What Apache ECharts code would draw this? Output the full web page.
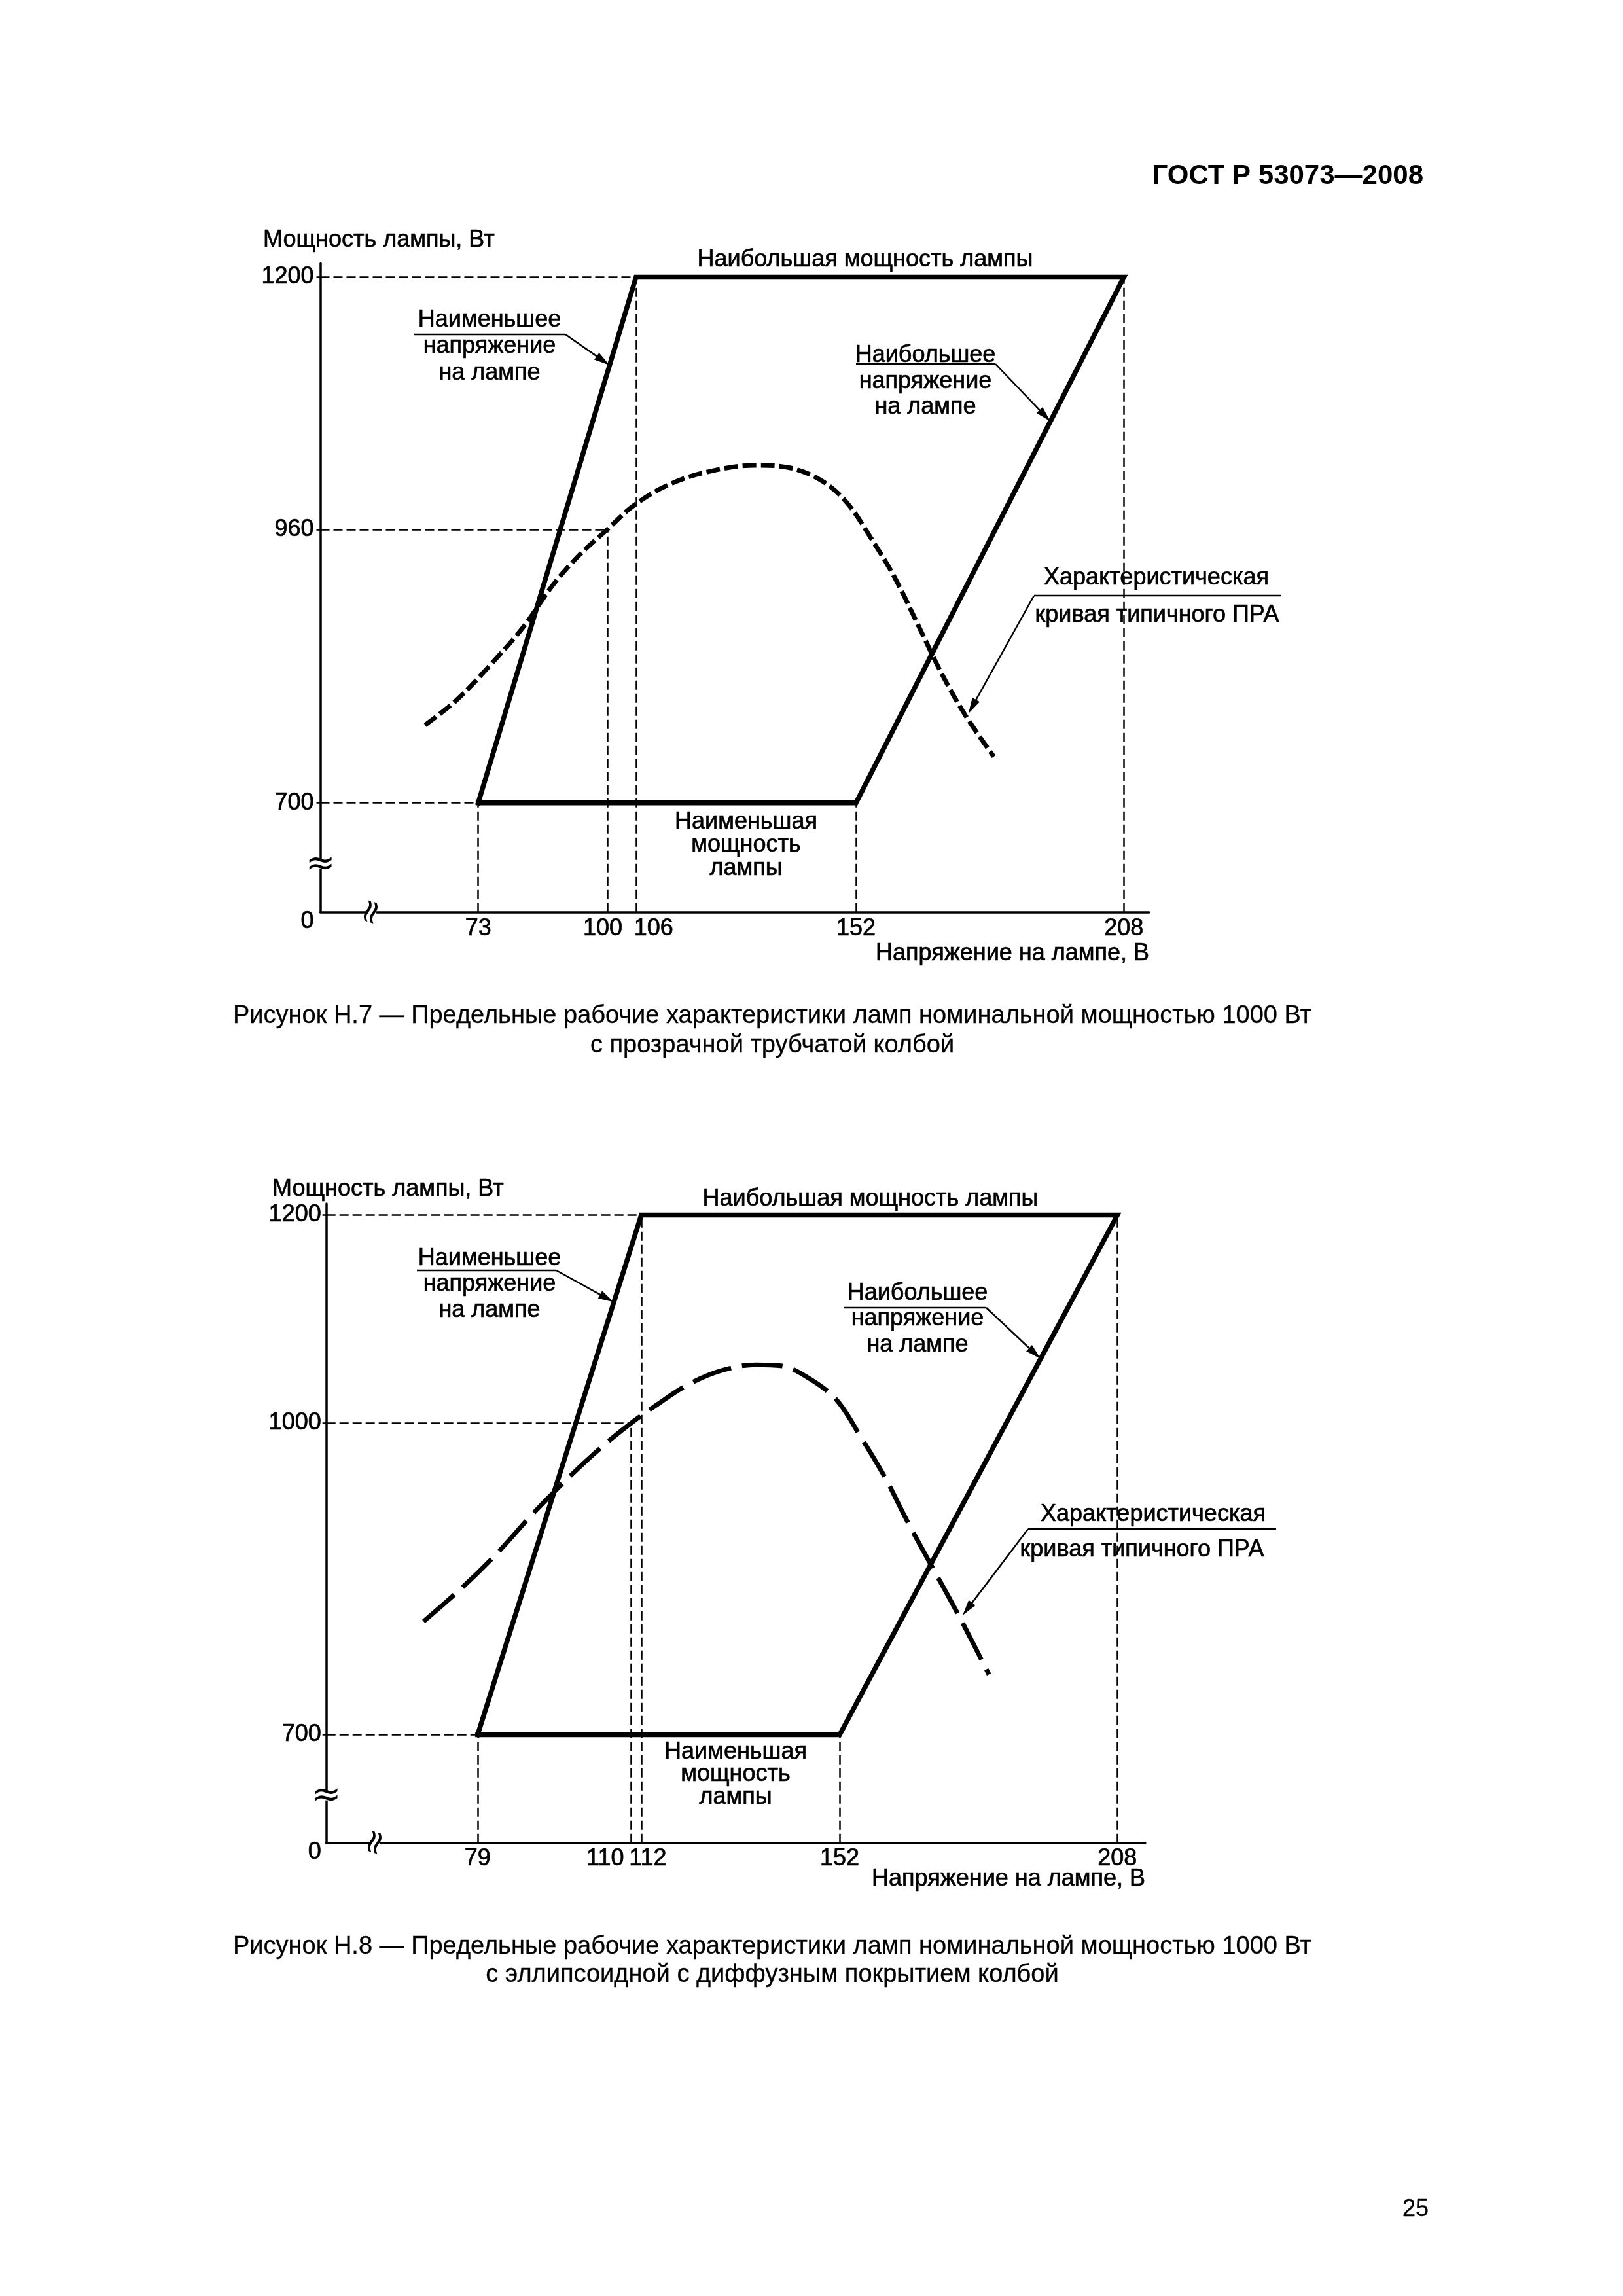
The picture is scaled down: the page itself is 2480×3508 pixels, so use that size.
<!DOCTYPE html>
<html><head><meta charset="utf-8">
<script src="https://cdn.jsdelivr.net/npm/echarts@6.0.0/dist/echarts.min.js"></script>
<style>html,body{margin:0;padding:0;background:#fff}#c{width:2480px;height:3508px}</style>
</head><body><div id="c"></div>
<script>
// ---------- DATA ----------
// Figure H.7
const fig7XTicks = [73, 100, 106, 152, 208];
const fig7YTicks = [700, 960, 1200];
const fig7EnvelopeV = [73, 106, 208, 152, 73];
const fig7EnvelopeP = [700, 1200, 1200, 700, 700];
const fig7GuideV = [73, 100, 106, 152, 208];
const fig7GuideP = [700, 960, 1200, 700, 1200];
const fig7CurveV = [61.9, 68.3, 75.3, 82.4, 88.6, 94.0, 100, 105.3, 112.1, 120.2, 131.0, 137.8, 144.6, 150.0, 155.1, 160.0, 165.0, 169.9, 174.9, 180.8];
const fig7CurveP = [774, 797, 830, 867, 907, 935, 960, 982, 1001, 1014, 1021, 1019, 1007, 986, 952, 915, 869, 823, 783, 744];
// Figure H.8
const fig8XTicks = [79, 110, 112, 152, 208];
const fig8YTicks = [700, 1000, 1200];
const fig8EnvelopeV = [79, 112, 208, 152, 79];
const fig8EnvelopeP = [700, 1200, 1200, 700, 700];
const fig8GuideV = [79, 110, 112, 152, 208];
const fig8GuideP = [700, 1000, 1200, 700, 1200];
const fig8CurveV = [68.1, 76.2, 83.2, 90.2, 97.9, 104.3, 110, 115.3, 121.1, 127.9, 135.2, 140.2, 145.8, 151.4, 156.2, 161.1, 165.9, 170.6, 176.2, 182.1];
const fig8CurveP = [809, 843, 876, 913, 950, 978, 1000, 1018, 1036, 1050, 1056, 1055, 1043, 1022, 987, 948, 903, 862, 813, 758];

// texts
const headerText = 'ГОСТ Р 53073—2008';
const yName = 'Мощность лампы, Вт';
const xName = 'Напряжение на лампе, В';
const lblMaxPower = 'Наибольшая мощность лампы';
const lblMinVoltage = ['Наименьшее', 'напряжение', 'на лампе'];
const lblMaxVoltage = ['Наибольшее', 'напряжение', 'на лампе'];
const lblCurve = ['Характеристическая', 'кривая типичного ПРА'];
const lblMinPower = ['Наименьшая', 'мощность', 'лампы'];
const caption7 = ['Рисунок Н.7 — Предельные рабочие характеристики ламп номинальной мощностью 1000 Вт', 'с прозрачной трубчатой колбой'];
const caption8 = ['Рисунок Н.8 — Предельные рабочие характеристики ламп номинальной мощностью 1000 Вт', 'с эллипсоидной с диффузным покрытием колбой'];
const pageNumber = '25';

// ---------- CHART ----------
const FONT = "'Liberation Sans', Arial, Helvetica, sans-serif";
const FS = 36;
const zip = (a, b) => a.map((v, i) => [v, b[i]]);

const axes = [
  {x: {min: 40, max: 213.3}, y: {min: 596, max: 1213},
   xShift: {100: [0, 14, 0, 0], 106: [0, 0, 0, 54]}, yMargin: 10, xMargin: 7},
  {x: {min: 48.5, max: 213.6}, y: {min: 596, max: 1211},
   xShift: {110: [0, 80, 0, 0], 112: [0, 0, 0, 20]}, yMargin: 8, xMargin: 6}
];
const figs = [
  {xt: fig7XTicks, yt: fig7YTicks, ev: fig7EnvelopeV, ep: fig7EnvelopeP, gv: fig7GuideV, gp: fig7GuideP, cv: fig7CurveV, cp: fig7CurveP, dash: [21, 7]},
  {xt: fig8XTicks, yt: fig8YTicks, ev: fig8EnvelopeV, ep: fig8EnvelopeP, gv: fig8GuideV, gp: fig8GuideP, cv: fig8CurveV, cp: fig8CurveP, dash: [62, 17]}
];

const grids = [
  {left: 489.5, right: 724, top: 402.5, bottom: 2114.2},
  {left: 498.7, right: 730.2, top: 1839, bottom: 692.3}
];

const BORDER = {textBorderColor: '#000', textBorderWidth: 0.7};
const xAxes = [], yAxes = [], series = [];
figs.forEach((f, gi) => {
  const ax = axes[gi];
  const rich = {};
  Object.keys(ax.xShift).forEach(k => { rich['s' + k] = Object.assign({padding: ax.xShift[k], fontSize: FS, fontFamily: FONT, color: '#000'}, BORDER); });
  xAxes.push({
    type: 'value', gridIndex: gi, min: ax.x.min, max: ax.x.max,
    axisLine: {lineStyle: {color: '#000', width: 3.5}},
    axisTick: {show: false}, splitLine: {show: false},
    axisLabel: Object.assign({
      customValues: f.xt, margin: ax.xMargin, color: '#000', fontFamily: FONT, fontSize: FS,
      formatter: v => (ax.xShift[v] ? '{s' + v + '|' + v + '}' : String(v)), rich: rich
    }, BORDER)
  });
  yAxes.push({
    type: 'value', gridIndex: gi, min: ax.y.min, max: ax.y.max,
    axisLine: {lineStyle: {color: '#000', width: 3.5}},
    axisTick: {show: true, customValues: f.yt, length: 6, lineStyle: {width: 2.5, color: '#000'}},
    splitLine: {show: false},
    axisLabel: Object.assign({
      customValues: [ax.y.min].concat(f.yt), margin: ax.yMargin, color: '#000', fontFamily: FONT, fontSize: FS,
      formatter: v => (v === ax.y.min ? '{z|0}' : String(v)),
      rich: {z: Object.assign({padding: [28, 0, 0, 0], fontSize: FS, fontFamily: FONT, color: '#000'}, BORDER)}
    }, BORDER)
  });
  // guide (thin dashed) lines
  const ml = [];
  f.gv.forEach((v, i) => ml.push([{coord: [v, ax.y.min]}, {coord: [v, f.gp[i]]}]));
  f.yt.forEach(p => {
    const vs = f.ev.filter((v, i) => f.ep[i] === p).concat(f.gv.filter((v, i) => f.gp[i] === p));
    ml.push([{coord: [ax.x.min, p]}, {coord: [Math.min.apply(null, vs), p]}]);
  });
  series.push({
    type: 'line', xAxisIndex: gi, yAxisIndex: gi, data: zip(f.ev, f.ep), symbol: 'none', z: 3,
    lineStyle: {color: '#000', width: 7.5, join: 'miter', cap: 'square'},
    markLine: {silent: true, symbol: ['none', 'none'], label: {show: false}, z: 1,
      lineStyle: {color: '#000', width: 2.5, type: [14, 6]}, emphasis: {disabled: true}, data: ml}
  });
  series.push({
    type: 'line', xAxisIndex: gi, yAxisIndex: gi, data: zip(f.cv, f.cp), symbol: 'none', smooth: 0.35, z: 4,
    lineStyle: {color: '#000', width: 7, type: f.dash, cap: 'butt'}
  });
});

const chart = echarts.init(document.getElementById('c'), null, {renderer: 'canvas', width: 2480, height: 3508});
chart.setOption({
  animation: false, backgroundColor: '#fff',
  grid: grids, xAxis: xAxes, yAxis: yAxes, series: series
});

// ---------- ANNOTATIONS ----------
const G = [];
function txt(s, x, y, opt) {
  opt = opt || {};
  G.push({type: 'text', x: x, y: y, z: 10, style: {text: s, fill: '#000', fontSize: opt.size || FS,
    fontFamily: FONT, fontWeight: opt.bold ? 'bold' : 'normal', align: opt.align || 'center', verticalAlign: 'middle',
    stroke: '#000', lineWidth: opt.stroke != null ? opt.stroke : 0.7}});
}
function seg(x1, y1, x2, y2, w) {
  G.push({type: 'line', z: 10, shape: {x1: x1, y1: y1, x2: x2, y2: y2}, style: {stroke: '#000', lineWidth: w || 2.5}});
}
function arrow(sx, sy, tx, ty) {
  const dx = tx - sx, dy = ty - sy, L = Math.hypot(dx, dy), ux = dx / L, uy = dy / L;
  const hl = 24, hw = 6.5, bx = tx - ux * hl, by = ty - uy * hl;
  seg(sx, sy, bx + ux * 2, by + uy * 2, 2.5);
  G.push({type: 'polygon', z: 10, shape: {points: [[tx, ty], [bx - uy * hw, by + ux * hw], [bx + uy * hw, by - ux * hw]]}, style: {fill: '#000'}});
}
const px = (gi, pt) => chart.convertToPixel({gridIndex: gi}, pt);
const onSeg = (f, i, t) => [f.ev[i] + t * (f.ev[i + 1] - f.ev[i]), f.ep[i] + t * (f.ep[i + 1] - f.ep[i])];

function breaks(gi) {
  const ax = axes[gi];
  const o = px(gi, [ax.x.min, ax.y.min]);
  const yb = px(gi, [ax.x.min, ax.y.min + 0.43 * (700 - ax.y.min)]);
  const xb = px(gi, [ax.x.min + 0.33 * (figs[gi].xt[0] - ax.x.min), ax.y.min]);
  G.push({type: 'rect', z: 9, shape: {x: o[0] - 5, y: yb[1] - 6, width: 10, height: 12}, style: {fill: '#fff'}});
  G.push({type: 'text', z: 10, x: o[0], y: yb[1], style: {text: '≈', fill: '#000', fontSize: 54, fontFamily: 'DejaVu Sans', align: 'center', verticalAlign: 'middle'}});
  G.push({type: 'rect', z: 9, shape: {x: xb[0] - 6, y: o[1] - 5, width: 12, height: 10}, style: {fill: '#fff'}});
  G.push({type: 'text', z: 10, x: xb[0], y: o[1], rotation: Math.PI / 2 - 0.3, style: {text: '≈', fill: '#000', fontSize: 50, fontFamily: 'DejaVu Sans', align: 'center', verticalAlign: 'middle'}});
}

// page header, captions, page number
txt(headerText, 2175, 269, {size: 42, bold: true, align: 'right', stroke: 0});
txt(caption7[0], 1180, 1553, {size: 38, stroke: 0.3});
txt(caption7[1], 1180, 1598, {size: 38, stroke: 0.3});
txt(caption8[0], 1180, 2975, {size: 38, stroke: 0.3});
txt(caption8[1], 1180, 3018, {size: 38, stroke: 0.3});
txt(pageNumber, 2163, 3376, {size: 36, stroke: 0.3});

// figure 7 labels
txt(yName, 402, 367, {align: 'left'});
txt(xName, 1756, 1457, {align: 'right'});
txt(lblMaxPower, 1322, 397);
lblMinVoltage.forEach((s, i) => txt(s, 748, 489 + i * 40.3));
seg(633, 511, 864, 511);
let tp = px(0, onSeg(figs[0], 0, 0.8325)); arrow(864, 511, tp[0], tp[1]);
lblMaxVoltage.forEach((s, i) => txt(s, 1414, 543 + i * 39.7));
seg(1308, 556, 1521, 556);
tp = px(0, onSeg(figs[0], 2, 0.2743)); arrow(1521, 556, tp[0], tp[1]);
txt(lblCurve[0], 1767, 883); txt(lblCurve[1], 1768, 940);
seg(1580, 910, 1958, 910);
tp = px(0, [175.5, 785]); arrow(1580, 910, tp[0], tp[1]);
lblMinPower.forEach((s, i) => txt(s, 1140, 1256 + i * 35.5));
breaks(0);

// figure 8 labels
txt(yName, 416, 1817, {align: 'left'});
txt(xName, 1750, 2871, {align: 'right'});
txt(lblMaxPower, 1330, 1832);
lblMinVoltage.forEach((s, i) => txt(s, 748, 1923 + i * 39.5));
seg(637, 1941, 850, 1941);
tp = px(1, onSeg(figs[1], 0, 0.8324)); arrow(850, 1941, tp[0], tp[1]);
lblMaxVoltage.forEach((s, i) => txt(s, 1402, 1976 + i * 39.5));
seg(1289, 1998, 1507, 1998);
tp = px(1, onSeg(figs[1], 2, 0.2766)); arrow(1507, 1998, tp[0], tp[1]);
txt(lblCurve[0], 1762, 2314); txt(lblCurve[1], 1745, 2368);
seg(1571, 2336, 1950, 2336);
tp = px(1, [176.8, 815]); arrow(1571, 2336, tp[0], tp[1]);
lblMinPower.forEach((s, i) => txt(s, 1124, 2677 + i * 34.4));
breaks(1);

chart.setOption({graphic: {elements: G}});
</script></body></html>
